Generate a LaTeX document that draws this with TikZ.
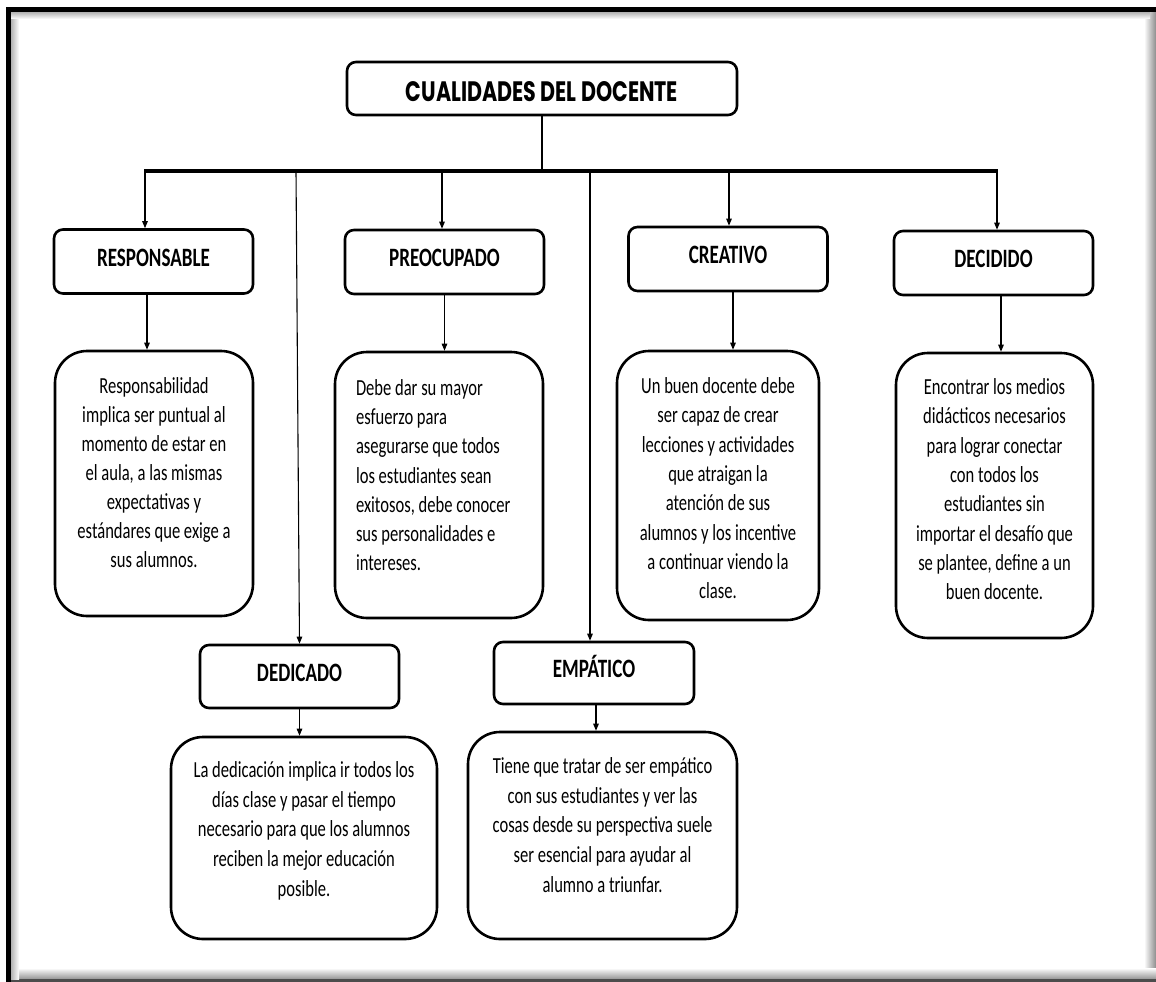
\documentclass[tikz,border=0pt]{standalone}
\usepackage{fontspec}
\usetikzlibrary{arrows.meta,calc}
\newfontfamily\bodyf[FakeStretch=0.72]{Carlito}
\newfontfamily\titf{Poppins}
% align, width, height, top space, baselineskip, body
\newcommand\mytext[6]{\parbox[c][#3][t]{#2}{\bodyf\fontsize{23}{#5}\selectfont #1\vspace*{#4}\strut #6}}
\tikzset{
  lab/.style={draw, line width=2.6pt, rounded corners=9pt, inner sep=0pt,
    font=\bodyf\bfseries\fontsize{26.5}{30}\selectfont, text height=11.8pt, text depth=2pt,
    minimum width=199pt, minimum height=64pt},
  txt/.style={draw, line width=2.6pt, rounded corners=32pt, inner sep=0pt},
  arr/.style={line width=1.1pt, -{Triangle[length=7pt,width=5.5pt]}},
  barline/.style={line width=3.4pt},
  stemline/.style={line width=2.6pt},
}
\begin{document}
\begin{tikzpicture}[x=1pt,y=-1pt]
\useasboundingbox (0,0) rectangle (1156,982);
\fill[white] (0,0) rectangle (1156,982);
% frame
\shade[left color=white, right color=black!45] (1144,12) rectangle (1156,980);
\shade[top color=white, bottom color=black!45] (11,968) rectangle (1156,980);
\fill[black!70] (6,979) rectangle (1156,982);
\shade[left color=black!30, right color=white] (11,12) rectangle (19,979);
\shade[top color=black!30, bottom color=white] (11,12) rectangle (1150,19);
\fill[black] (6,7) rectangle (11,982);
\fill[black] (6,7) rectangle (1156,12);

% title
\node[draw, line width=2.6pt, rounded corners=9pt, inner sep=0pt, minimum width=390pt, minimum height=53pt,
  text height=26.4pt, text depth=0pt] (title) at (542,88.5)
  {\resizebox{272pt}{20pt}{\titf\bfseries CUALIDADES DEL DOCENTE}};

% labels
\node[lab] (resp) at (153.5,261.5) {RESPONSABLE};
\node[lab] (preo) at (444.5,262) {PREOCUPADO};
\node[lab] (crea) at (728,259) {CREATIVO};
\node[lab] (deci) at (993.5,263) {DECIDIDO};
\node[lab, minimum height=63pt] (dedi) at (299.5,676.5) {DEDICADO};
\node[lab, minimum width=200pt, minimum height=62pt] (empa) at (594,673) {EMPÁTICO};

% text boxes
\node[txt] (tresp) at (154,483.5) {\mytext{\centering}{198pt}{265pt}{22pt}{29pt}{Responsabilidad\\
implica ser puntual al\\
momento de estar en\\
el aula, a las mismas\\
expectativas y\\
estándares que exige a\\
sus alumnos.}};
\node[txt] (tpreo) at (439,485) {\mytext{\raggedright\leftskip=21pt}{208pt}{266pt}{23pt}{29.2pt}{Debe dar su mayor\\
esfuerzo para\\
asegurarse que todos\\
los estudiantes sean\\
exitosos, debe conocer\\
sus personalidades e\\
intereses.}};
\node[txt] (tcrea) at (718,485.5) {\mytext{\centering}{202pt}{269pt}{22pt}{29.3pt}{Un buen docente debe\\
ser capaz de crear\\
lecciones y actividades\\
que atraigan la\\
atención de sus\\
alumnos y los incentive\\
a continuar viendo la\\
clase.}};
\node[txt] (tdeci) at (994.5,495.5) {\mytext{\centering}{197pt}{285pt}{21pt}{29.3pt}{Encontrar los medios\\
didácticos necesarios\\
para lograr conectar\\
con todos los\\
estudiantes sin\\
importar el desafío que\\
se plantee, define a un\\
buen docente.}};
\node[txt] (tdedi) at (304,838) {\mytext{\centering}{266pt}{202pt}{19.6pt}{29.7pt}{La dedicación implica ir todos los\\
días clase y pasar el tiempo\\
necesario para que los alumnos\\
reciben la mejor educación\\
posible.}};
\node[txt] (tempa) at (602.5,835.5) {\mytext{\centering}{269pt}{207pt}{20.6pt}{29.7pt}{Tiene que tratar de ser empático\\
con sus estudiantes y ver las\\
cosas desde su perspectiva suele\\
ser esencial para ayudar al\\
alumno a triunfar.}};

% trunk
\coordinate (bl) at (145,171);
\coordinate (br) at (997,171);
\coordinate (j2) at (296,171);
\coordinate (j3) at (442,171);
\coordinate (j4) at (590,171);
\coordinate (j5) at (729,171);
\draw[stemline] (title.south) -- (title.south |- bl);
\draw[barline] ([xshift=-1pt]bl) -- ([xshift=1pt]br);

% branches
\draw[arr] (bl) -- (bl |- resp.north);
\draw[arr] (j2) -- (dedi.north);
\draw[arr] (j3) -- (j3 |- preo.north);
\draw[arr] (j4) -- (j4 |- empa.north);
\draw[arr] (j5) -- (j5 |- crea.north);
\draw[arr] (br) -- (br |- deci.north);

% label to text
\draw[arr] ([xshift=-6.5pt]resp.south) -- ([xshift=-6.5pt]resp.south |- tresp.north);
\draw[arr] (preo.south) -- (preo.south |- tpreo.north);
\draw[arr] ([xshift=5pt]crea.south) -- ([xshift=5pt]crea.south |- tcrea.north);
\draw[arr] ([xshift=7.5pt]deci.south) -- ([xshift=7.5pt]deci.south |- tdeci.north);
\draw[arr] (dedi.south) -- (dedi.south |- tdedi.north);
\draw[arr] ([xshift=2pt]empa.south) -- ([xshift=2pt]empa.south |- tempa.north);
\end{tikzpicture}
\end{document}
